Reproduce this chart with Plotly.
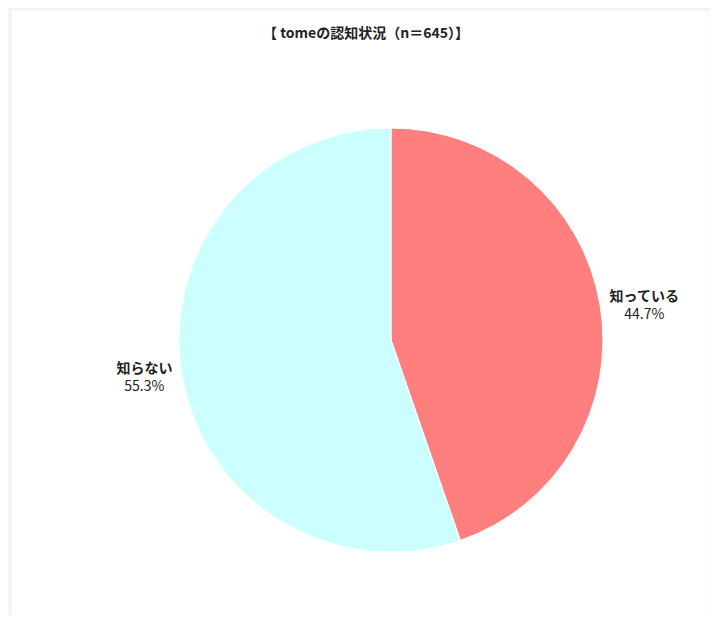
import plotly.graph_objects as go

labels = ["知っている", "知らない"]
values = [44.7, 55.3]
colors = ["#FF7F7F", "#CCFFFF"]
title_text = "【 tomeの認知状況（n＝645）】"

# page body has an 8px margin; lay the figure out in reference coords minus 8
OFF = 8
W, H = 702, 607
cx, cy, r = 391 - OFF, 340 - OFF, 212

fig = go.Figure(go.Pie(
    labels=labels,
    values=values,
    sort=False,
    direction="clockwise",
    rotation=0,
    marker=dict(colors=colors, line=dict(color="#FFFFFF", width=1)),
    texttemplate="<b>%{label}</b><br>%{value:.1f}%",
    textposition="outside",
    textfont=dict(family="Noto Sans CJK JP", size=14, color="#222222"),
    showlegend=False,
    hoverinfo="label+percent",
    domain=dict(x=[(cx - r) / W, (cx + r) / W], y=[(H - cy - r) / H, (H - cy + r) / H]),
))

fig.update_layout(
    width=W, height=H,
    margin=dict(l=0, r=0, t=0, b=0),
    paper_bgcolor="#FFFFFF",
    plot_bgcolor="#FFFFFF",
    title=dict(text="<b>" + title_text + "</b>", x=(366 - OFF) / W, xanchor="center",
               y=1 - (33 - OFF) / H, yanchor="middle",
               font=dict(family="Noto Sans CJK JP", size=14, color="#222222")),
    shapes=[dict(type="rect", xref="paper", yref="paper",
                 x0=(10 - OFF) / W, x1=(711 - OFF) / W, y0=1 - (617 - OFF) / H, y1=1 - (8 - OFF + 1) / H,
                 line=dict(color="#F2F2F2", width=3), fillcolor="rgba(0,0,0,0)", layer="below")],
)

fig.write_html("out.html")
